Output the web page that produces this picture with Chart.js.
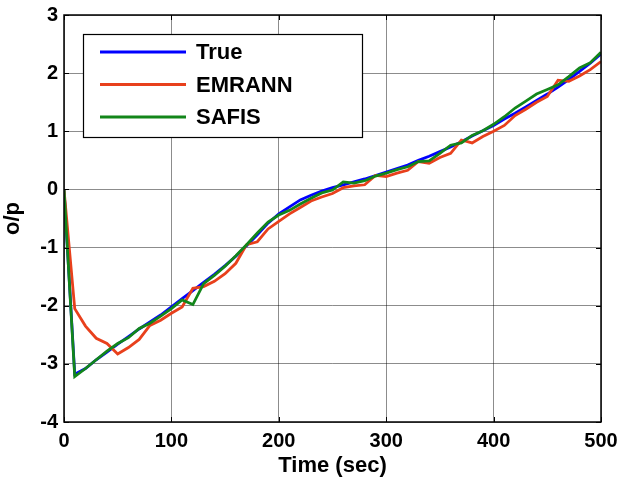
<!DOCTYPE html>
<html>
<head>
<meta charset="utf-8">
<script src="https://cdn.jsdelivr.net/npm/chart.js@4"></script>
<style>
  html, body { margin: 0; padding: 0; background: #fff; }
  #wrap { width: 621px; height: 482px; }
</style>
</head>
<body>
<div id="wrap"><canvas id="chart" width="621" height="482"></canvas></div>
<script>
// sample times (sec)
const times = [0, 10, 20, 30, 40, 50, 60, 70, 80, 90, 100, 110, 120, 130, 140, 150, 160, 170, 180, 190,
    200, 210, 220, 230, 240, 250, 260, 270, 280, 290, 300, 310, 320, 330, 340, 350, 360, 370, 380, 390,
    400, 410, 420, 430, 440, 450, 460, 470, 480, 490, 500]

const trueVals = [0, -3.18, -3.08, -2.93, -2.80, -2.66, -2.53, -2.40, -2.28, -2.16, -2.02, -1.88, -1.74,
    -1.60, -1.46, -1.31, -1.15, -0.97, -0.78, -0.58, -0.42, -0.30, -0.18, -0.10, -0.03, 0.03, 0.08, 0.13,
    0.18, 0.24, 0.30, 0.36, 0.42, 0.50, 0.57, 0.65, 0.73, 0.82, 0.92, 1.01, 1.10, 1.21, 1.31, 1.42, 1.53,
    1.64, 1.76, 1.89, 2.03, 2.17, 2.33]

const emrannVals = [0, -2.05, -2.35, -2.56, -2.65, -2.83, -2.72, -2.58, -2.34, -2.25, -2.13, -2.02, -1.70,
    -1.67, -1.58, -1.45, -1.27, -0.95, -0.90, -0.68, -0.55, -0.42, -0.31, -0.20, -0.13, -0.07, 0.03, 0.06,
    0.08, 0.24, 0.22, 0.28, 0.33, 0.48, 0.45, 0.55, 0.62, 0.85, 0.80, 0.91, 1.00, 1.10, 1.27, 1.38, 1.50,
    1.60, 1.88, 1.86, 1.95, 2.06, 2.20]

const safisVals = [0, -3.22, -3.08, -2.93, -2.78, -2.65, -2.55, -2.39, -2.30, -2.18, -2.05, -1.90, -1.98,
    -1.62, -1.48, -1.32, -1.14, -0.95, -0.75, -0.56, -0.44, -0.36, -0.25, -0.15, -0.06, -0.01, 0.13, 0.11,
    0.15, 0.23, 0.28, 0.34, 0.39, 0.48, 0.49, 0.62, 0.76, 0.80, 0.93, 1.01, 1.12, 1.25, 1.40, 1.52, 1.64,
    1.72, 1.80, 1.94, 2.09, 2.18, 2.36]

const xTicks = [0, 100, 200, 300, 400, 500]
const yTicks = [-4, -3, -2, -1, 0, 1, 2, 3]

const FONT = "'Liberation Sans', Arial, sans-serif"

function pts(vals) {
    return times.map((t, i) => ({x: t, y: vals[i]}))
}

// box round the axes, with inward ticks on all four sides
const axesBox = {
    id: 'axesBox',
    afterDraw(chart) {
        const ctx = chart.ctx
        const a = chart.chartArea
        const xs = chart.scales.x, ys = chart.scales.y
        ctx.save()
        ctx.strokeStyle = '#000'
        ctx.lineWidth = 1
        ctx.beginPath()
        xTicks.forEach(v => {
            const px = Math.round(xs.getPixelForValue(v)) + 0.5
            ctx.moveTo(px, a.bottom); ctx.lineTo(px, a.bottom - 5)
            ctx.moveTo(px, a.top); ctx.lineTo(px, a.top + 5)
        })
        yTicks.forEach(v => {
            const py = Math.round(ys.getPixelForValue(v)) + 0.5
            ctx.moveTo(a.left, py); ctx.lineTo(a.left + 5, py)
            ctx.moveTo(a.right, py); ctx.lineTo(a.right - 5, py)
        })
        ctx.stroke()
        ctx.lineWidth = 1.5
        ctx.strokeRect(a.left, a.top, a.right - a.left, a.bottom - a.top)
        ctx.restore()
    }
}

// matlab style legend box in upper left
const boxLegend = {
    id: 'boxLegend',
    afterDraw(chart) {
        const ctx = chart.ctx
        const bx = 83, by = 34, bw = 279, bh = 103
        ctx.save()
        ctx.fillStyle = '#fff'
        ctx.fillRect(bx, by, bw, bh)
        ctx.strokeStyle = '#000'
        ctx.lineWidth = 1.2
        ctx.strokeRect(bx + 0.5, by + 0.5, bw, bh)
        ctx.font = 'bold 22px ' + FONT
        ctx.textBaseline = 'middle'
        chart.data.datasets.forEach((ds, i) => {
            const y = 52 + i * 32.5
            ctx.strokeStyle = ds.borderColor
            ctx.lineWidth = 2.8
            ctx.beginPath()
            ctx.moveTo(100, y); ctx.lineTo(186, y)
            ctx.stroke()
            ctx.fillStyle = '#000'
            ctx.fillText(ds.label, 196, y + 1)
        })
        ctx.restore()
    }
}

const ctx = document.getElementById('chart').getContext('2d')
const chart = new Chart(ctx, {
    type: 'line',
    data: {
        datasets: [{
            label: 'True',
            data: pts(trueVals),
            borderColor: '#0000ff',
            borderWidth: 2.8,
            pointRadius: 0,
            tension: 0,
            order: 2,
        }, {
            label: 'EMRANN',
            data: pts(emrannVals),
            borderColor: '#e8401c',
            borderWidth: 2.8,
            pointRadius: 0,
            tension: 0,
            order: 1,
        }, {
            label: 'SAFIS',
            data: pts(safisVals),
            borderColor: '#12861a',
            borderWidth: 2.8,
            pointRadius: 0,
            tension: 0,
            order: 0,
        }]
    },
    options: {
        responsive: false,
        animation: false,
        devicePixelRatio: 1,
        layout: {
            padding: {top: 15, right: 20, left: 0, bottom: 0}
        },
        plugins: {
            legend: {display: false},
            tooltip: {enabled: false}
        },
        scales: {
            x: {
                type: 'linear',
                min: 0,
                max: 500,
                afterBuildTicks: (s) => { s.ticks = xTicks.map(v => ({value: v})) },
                afterFit: (s) => { s.height = 60; s.paddingLeft = 0; s.paddingRight = 0 },
                border: {display: false},
                grid: {
                    color: 'rgba(0,0,0,0.45)',
                    borderDash: [1, 2],
                    drawTicks: false,
                },
                ticks: {
                    color: '#000',
                    font: {family: FONT, size: 20, weight: 'bold'},
                    padding: 7,
                    maxRotation: 0,
                },
                title: {
                    display: true,
                    text: 'Time (sec)',
                    color: '#000',
                    font: {family: FONT, size: 22, weight: 'bold'},
                    padding: {top: 0, bottom: 3},
                }
            },
            y: {
                min: -4,
                max: 3,
                afterBuildTicks: (s) => { s.ticks = yTicks.map(v => ({value: v})) },
                afterFit: (s) => { s.width = 64; s.paddingTop = 0; s.paddingBottom = 0 },
                border: {display: false},
                grid: {
                    color: 'rgba(0,0,0,0.45)',
                    borderDash: [1, 2],
                    drawTicks: false,
                },
                ticks: {
                    color: '#000',
                    font: {family: FONT, size: 20, weight: 'bold'},
                    padding: 6,
                },
                title: {
                    display: true,
                    text: 'o/p',
                    color: '#000',
                    font: {family: FONT, size: 22, weight: 'bold'},
                    padding: {top: 0, bottom: 0},
                }
            }
        }
    },
    plugins: [axesBox, boxLegend]
});
</script>
</body>
</html>
